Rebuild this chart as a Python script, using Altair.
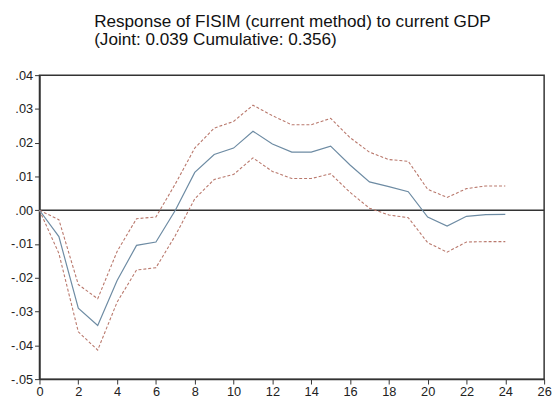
import altair as alt
import pandas as pd

steps = list(range(25))
response = [0.000, -0.0078, -0.0290, -0.0341, -0.0208, -0.0104, -0.0094, 0.0000, 0.0112,
            0.0165, 0.0184, 0.0234, 0.0196, 0.0172, 0.0172, 0.0190, 0.0134, 0.0084,
            0.0070, 0.0055, -0.0020, -0.0047, -0.0018, -0.0013, -0.0012]
upper = [0.000, -0.0028, -0.0220, -0.0262, -0.0122, -0.0025, -0.0020, 0.0078, 0.0184,
         0.0243, 0.0263, 0.0311, 0.0280, 0.0253, 0.0253, 0.0272, 0.0215, 0.0172,
         0.0150, 0.0145, 0.0062, 0.0038, 0.0064, 0.0072, 0.0072]
lower = [0.000, -0.0128, -0.0360, -0.0414, -0.0272, -0.0177, -0.0170, -0.0075, 0.0034,
         0.0091, 0.0106, 0.0155, 0.0115, 0.0094, 0.0094, 0.0108, 0.0053, 0.0006,
         -0.0014, -0.0022, -0.0096, -0.0124, -0.0094, -0.0093, -0.0093]
x_ticks = list(range(0, 27, 2))
y_ticks = [-0.05, -0.04, -0.03, -0.02, -0.01, 0.0, 0.01, 0.02, 0.03, 0.04]

df = pd.DataFrame({"step": steps, "response": response, "upper": upper, "lower": lower})

xs = alt.Scale(domain=[0, 26], nice=False, zero=False)
ys = alt.Scale(domain=[-0.05, 0.04], nice=False, zero=False)

xaxis = alt.Axis(values=x_ticks, title=None)
yaxis = alt.Axis(values=y_ticks, title=None,
                 labelExpr="replace(replace(format(datum.value, '.2f'), '\u2212', '-'), '0.', '.')")

base = alt.Chart(df)

center = base.mark_line(color="#6d8ba3", strokeWidth=1.2).encode(
    x=alt.X("step:Q", scale=xs, axis=xaxis),
    y=alt.Y("response:Q", scale=ys, axis=yaxis),
)
up = base.mark_line(color="#b9786c", strokeWidth=1.1, strokeDash=[3, 2]).encode(
    x=alt.X("step:Q", scale=xs, axis=xaxis), y=alt.Y("upper:Q", scale=ys, axis=yaxis))
lo = base.mark_line(color="#b9786c", strokeWidth=1.1, strokeDash=[3, 2]).encode(
    x=alt.X("step:Q", scale=xs, axis=xaxis), y=alt.Y("lower:Q", scale=ys, axis=yaxis))

zero = alt.Chart(pd.DataFrame({"z": [0.0]})).mark_rule(color="#333", strokeWidth=1.5).encode(
    y=alt.Y("z:Q", scale=ys, axis=yaxis))

chart = alt.layer(zero, lo, up, center).properties(
    width=513, height=309,
    title=alt.TitleParams(
        text=["Response of FISIM (current method) to current GDP",
              "(Joint: 0.039 Cumulative: 0.356)"],
        font="Liberation Sans", fontSize=17.4, fontWeight="normal", color="#111",
        anchor="start", align="left", dx=85, offset=21, lineHeight=19),
    autosize=alt.AutoSizeParams(type="none"),
    padding={"left": 32, "top": 65, "right": 8, "bottom": 20},
).configure_view(stroke="#333", strokeWidth=1.5).configure_axis(
    grid=False, labelFontSize=13, labelFont="Liberation Sans", labelColor="#222",
    tickColor="#333", domainColor="#333", domainWidth=1.5, tickSize=5, labelPadding=2,
    labelOverlap=False, labelFlush=False)

chart.save("out.html", embed_options={"renderer": "svg", "actions": False})
